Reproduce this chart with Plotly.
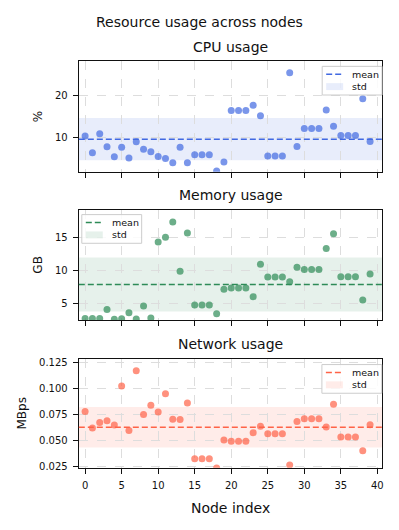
import numpy as np
import plotly.graph_objects as go
from plotly.subplots import make_subplots

# 节点编号
nodes = list(range(40))

# CPU 使用率 (%)
cpu_usage = [10.3, 6.3, 10.8, 7.7, 5.3, 7.6, 5.0, 8.9, 7.1, 6.5,
             5.4, 4.9, 3.9, 7.6, 3.9, 5.8, 5.8, 5.8, 1.9, 4.1,
             16.4, 16.4, 16.4, 17.6, 15.1, 5.5, 5.5, 5.5, 25.4, 7.8,
             12.1, 12.1, 12.1, 16.5, 12.6, 10.4, 10.4, 10.4, 19.2, 9.0]

# 内存使用 (GB)
mem_usage = [2.7, 2.7, 2.7, 4.05, 2.55, 2.65, 3.55, 2.6, 4.6, 2.75,
             14.35, 15.05, 17.4, 9.9, 15.7, 4.75, 4.75, 4.75, 3.4, 7.15,
             7.35, 7.35, 7.35, 6.0, 10.95, 9.0, 9.0, 9.0, 8.3, 10.5,
             10.15, 10.15, 10.15, 13.35, 15.6, 9.05, 9.05, 9.05, 5.5, 9.45]

# 网络使用 (MBps)
net_usage = [0.0774, 0.0615, 0.0669, 0.0685, 0.0644, 0.1021, 0.0593, 0.1167, 0.0745, 0.0834,
             0.0771, 0.0945, 0.0701, 0.0698, 0.0856, 0.032, 0.032, 0.032, 0.0231, 0.0501,
             0.0488, 0.0488, 0.0488, 0.0571, 0.0634, 0.0561, 0.0561, 0.0561, 0.026, 0.0679,
             0.0704, 0.0704, 0.0704, 0.0625, 0.0844, 0.0529, 0.0529, 0.0529, 0.0396, 0.0647]

panels = [
    ("CPU usage", "%", cpu_usage, (65, 105, 225), [10, 20], None, (1.73, 28.1)),
    ("Memory usage", "GB", mem_usage, (46, 139, 87), [5, 10, 15], None, (2.44, 19.27)),
    ("Network usage", "MBps", net_usage, (255, 99, 71),
     [0.025, 0.05, 0.075, 0.1, 0.125], ".3f", (0.0234, 0.1281)),
]

# 页面 body 默认有 8px 边距, 坐标换算时扣除
OFF = 8
W, H = 399 - OFF, 530 - OFF


def px_x(x):
    return (x - OFF) / W


def px_y(y):
    return 1 - (y - OFF) / H


x_dom = [px_x(79), px_x(383.3)]
# 每个子图的上下边界(像素)
y_px = [(60, 171.7), (210, 321.7), (361, 471)]
# 图例框左上角(像素)
legend_box = [(323, 65), (82, 215), (322.7, 366.7)]
FONT = "DejaVu Sans"

fig = make_subplots(rows=3, cols=1)

for i, (title, ylab, vals, rgb, yticks, fmt, yr) in enumerate(panels):
    row = i + 1
    arr = np.array(vals)
    mean, std = arr.mean(), arr.std()
    r, g, b = rgb
    base = f"rgb({r},{g},{b})"
    band = f"rgba({r},{g},{b},0.12)"

    fig.add_trace(go.Scatter(
        x=nodes, y=vals, mode="markers",
        marker=dict(size=7, color=f"rgba({r},{g},{b},0.7)", line=dict(width=0)),
        showlegend=False, cliponaxis=True,
    ), row=row, col=1)

    fig.add_hrect(y0=mean - std, y1=mean + std, fillcolor=band,
                  line_width=0, layer="below", row=row, col=1)
    fig.add_hline(y=mean, line=dict(color=base, width=1.5, dash="6px,3px"),
                  row=row, col=1)

    top, bot = y_px[i]
    fig.update_yaxes(domain=[px_y(bot), px_y(top)], range=list(yr),
                     tickvals=yticks, tickformat=fmt,
                     title=dict(text=ylab, font=dict(size=12, color="#111"), standoff=9),
                     row=row, col=1)
    fig.update_xaxes(domain=x_dom, row=row, col=1)

    fig.add_annotation(text=title, x=(x_dom[0] + x_dom[1]) / 2, y=px_y(top - 15),
                       xref="paper", yref="paper", showarrow=False,
                       xanchor="center", yanchor="middle",
                       font=dict(size=14, family=FONT, color="#111"))

    # 手绘图例 (mean / std)
    bx, by = legend_box[i]
    fig.add_shape(type="rect", xref="paper", yref="paper",
                  x0=px_x(bx), x1=px_x(bx + 60), y0=px_y(by), y1=px_y(by + 29),
                  fillcolor="rgba(255,255,255,0.85)", line=dict(color="#cccccc", width=1))
    fig.add_shape(type="line", xref="paper", yref="paper",
                  x0=px_x(bx + 4), x1=px_x(bx + 21), y0=px_y(by + 8), y1=px_y(by + 8),
                  line=dict(color=base, width=1.5, dash="6px,3px"))
    fig.add_shape(type="rect", xref="paper", yref="paper",
                  x0=px_x(bx + 4), x1=px_x(bx + 21), y0=px_y(by + 17), y1=px_y(by + 24),
                  fillcolor=band, line_width=0)
    for label, ly in (("mean", by + 8), ("std", by + 20.5)):
        fig.add_annotation(text=label, x=px_x(bx + 28), y=px_y(ly),
                           xref="paper", yref="paper", showarrow=False,
                           xanchor="left", yanchor="middle",
                           font=dict(size=9.5, family=FONT, color="#111"))

fig.update_xaxes(range=[-0.86, 40.68], tickvals=list(range(0, 41, 5)),
                 showticklabels=False)
fig.update_xaxes(showticklabels=True, row=3, col=1,
                 title=dict(text="Node index", font=dict(size=14, color="#111"), standoff=13))

axis_style = dict(showline=True, mirror=True, linecolor="#111", linewidth=1.2,
                  ticks="outside", ticklen=5, tickwidth=1, tickcolor="#111",
                  ticklabelstandoff=3,
                  showgrid=True, gridcolor="#dddddd", griddash="dash", gridwidth=0.8,
                  zeroline=False, tickfont=dict(size=10, color="#111"))
fig.update_xaxes(**axis_style)
fig.update_yaxes(**axis_style)

fig.add_annotation(text="Resource usage across nodes", x=px_x(199.5), y=px_y(20),
                   xref="paper", yref="paper", showarrow=False,
                   xanchor="center", yanchor="middle",
                   font=dict(size=14, family=FONT, color="#111"))

fig.update_layout(
    width=W, height=H,
    margin=dict(l=0, r=0, t=0, b=0),
    paper_bgcolor="white", plot_bgcolor="white",
    font=dict(family=FONT, color="#111"),
    showlegend=False,
)

fig.write_html("out.html")
